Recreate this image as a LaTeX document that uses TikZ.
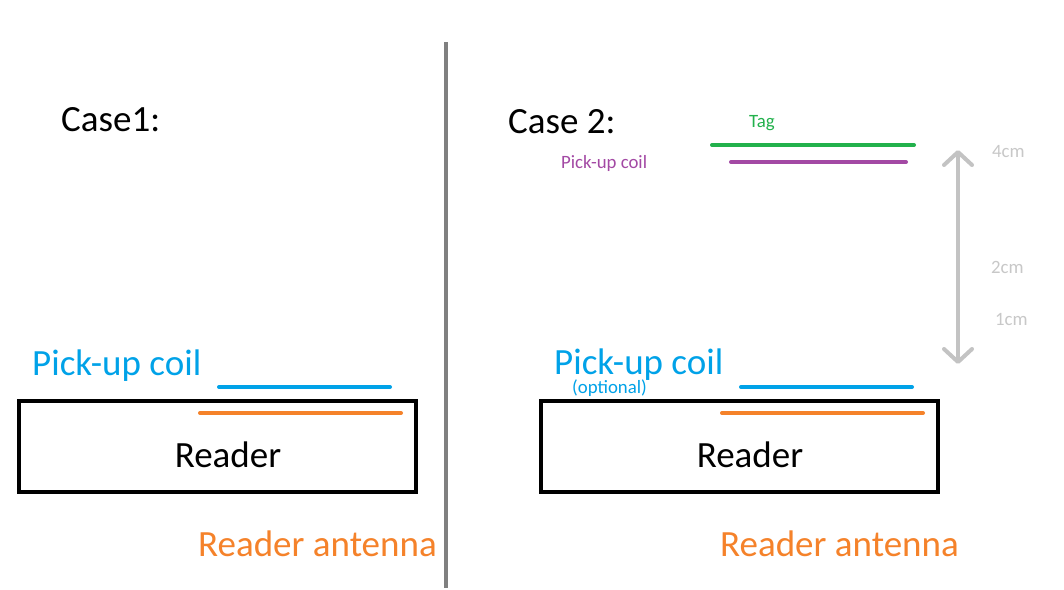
\documentclass[tikz,border=0pt]{standalone}
\usepackage{fontspec}
\setmainfont{Carlito}
\usetikzlibrary{arrows.meta}
\definecolor{cblue}{RGB}{0,162,232}
\definecolor{corange}{RGB}{245,130,42}
\definecolor{cgreen}{RGB}{34,177,76}
\definecolor{cpurple}{RGB}{163,73,164}
\definecolor{cgray}{RGB}{128,128,128}
\definecolor{clight}{RGB}{195,195,195}
\definecolor{ctext}{RGB}{200,200,200}
\tikzset{
  big/.style={font=\fontsize{37}{41}\selectfont, inner sep=0pt, anchor=base west},
  small/.style={font=\fontsize{18.8}{21}\selectfont, inner sep=0pt, anchor=base west},
  coilline/.style={line width=4pt, line cap=round},
  readerbox/.style={draw=black, line width=4pt},
}
\begin{document}
\begin{tikzpicture}[x=1pt,y=-1pt]
\useasboundingbox[fill=white] (0,0) rectangle (1064,589);
% divider
\draw[cgray, line width=4pt] (446,42) -- (446,588);

% ---- Case 1 ----
\node[big] (case1) at (61,131) {Case1:};
\node[big, text=cblue] (pick1) at (32,375) {Pick-up coil};
\draw[coilline, cblue] (219,387) -- (390,387);
\draw[readerbox] (19,401) rectangle (416,492);
\draw[coilline, corange] (200,413) -- (401,413);
\node[big, anchor=base] (reader1) at (228,467) {Reader};
\node[big, text=corange] (ant1) at (198,556) {Reader antenna};

% ---- Case 2 ----
\node[big] (case2) at (508,133) {Case 2:};
\node[small, text=cgreen] (tag) at (749,127) {Tag};
\draw[coilline, cgreen] (712,145) -- (914,145);
\node[small, text=cpurple] (pick2top) at (561,168) {Pick-up coil};
\draw[coilline, cpurple] (731,162) -- (906,162);

\node[big, text=cblue] (pick2) at (554,374) {Pick-up coil};
\node[small, text=cblue] (opt) at (572,393) {(optional)};
\draw[coilline, cblue] (741,387) -- (912,387);
\draw[readerbox] (541,401) rectangle (938,492);
\draw[coilline, corange] (722,413) -- (923,413);
\node[big, anchor=base] (reader2) at (750,467) {Reader};
\node[big, text=corange] (ant2) at (720,556) {Reader antenna};

% distance arrow
\coordinate (atop) at (958,150);
\coordinate (abot) at (958,364);
\draw[clight, line width=4pt, {Straight Barb[length=13pt,width=28pt,round]}-{Straight Barb[length=13pt,width=28pt,round]}] (atop) -- (abot);
\node[small, text=ctext] (d4) at (992,157) {4cm};
\node[small, text=ctext] (d2) at (991,273) {2cm};
\node[small, text=ctext] (d1) at (995,325) {1cm};
\end{tikzpicture}
\end{document}
